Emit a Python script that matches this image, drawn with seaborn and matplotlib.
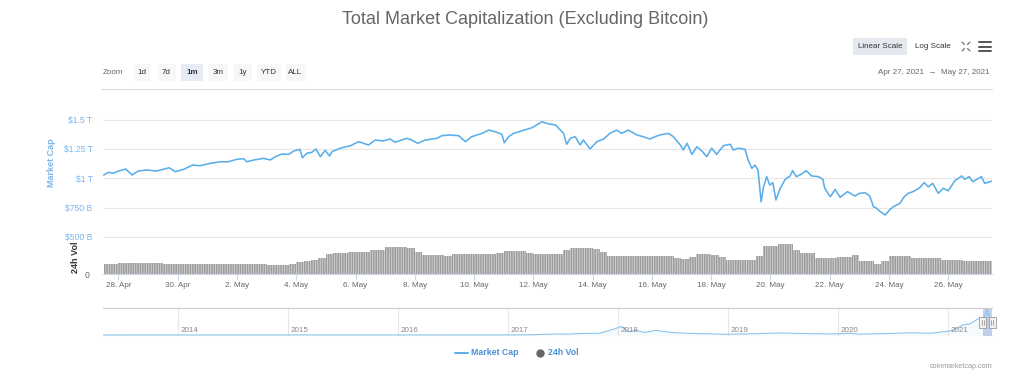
import numpy as np
import pandas as pd
import matplotlib
matplotlib.use("Agg")
import matplotlib.pyplot as plt
import matplotlib.dates as mdates
import matplotlib.transforms as mtrans
from matplotlib.patches import Rectangle
from matplotlib.lines import Line2D
import seaborn as sns

sns.set_theme(style="white")
plt.rcParams['font.family'] = ['Liberation Sans', 'DejaVu Sans']
plt.rcParams['hatch.linewidth'] = 0.6

# ---------------- data ----------------
title = "Total Market Capitalization (Excluding Bitcoin)"

cap_time = [
    "04-27 12:00", "04-27 16:00", "04-27 20:00", "04-28 00:00", "04-28 06:00", "04-28 11:00",
    "04-28 16:00", "04-28 23:00", "04-29 07:00", "04-29 17:00", "04-29 22:00", "04-30 05:00",
    "04-30 12:00", "04-30 18:00", "05-01 02:30", "05-01 10:30", "05-01 17:00", "05-02 00:00",
    "05-02 05:30", "05-02 08:00", "05-02 13:30", "05-02 21:30", "05-03 03:00", "05-03 07:00",
    "05-03 12:30", "05-03 18:00", "05-03 22:00", "05-04 03:00", "05-04 05:00", "05-04 08:30",
    "05-04 12:30", "05-04 16:00", "05-04 19:30", "05-04 23:30", "05-05 03:00", "05-05 05:00",
    "05-05 11:30", "05-05 20:00", "05-06 02:30", "05-06 10:30", "05-06 16:00", "05-06 22:30",
    "05-07 04:00", "05-07 08:00", "05-07 17:30", "05-07 21:30", "05-08 02:30", "05-08 08:30",
    "05-08 18:00", "05-08 22:00", "05-09 04:30", "05-09 11:30", "05-09 17:00", "05-09 22:00",
    "05-10 06:30", "05-10 12:00", "05-10 17:00", "05-10 22:30", "05-11 00:30", "05-11 04:00",
    "05-11 08:00", "05-11 15:00", "05-11 23:00", "05-12 07:00", "05-12 12:30", "05-12 18:00",
    "05-12 22:00", "05-13 00:30", "05-13 03:00", "05-13 06:00", "05-13 10:00", "05-13 14:00",
    "05-13 16:30", "05-13 22:00", "05-14 03:30", "05-14 09:00", "05-14 14:00", "05-14 19:30",
    "05-14 23:30", "05-15 05:00", "05-15 12:00", "05-15 17:00", "05-15 22:30", "05-16 02:30",
    "05-16 06:30", "05-16 13:30", "05-16 17:30", "05-16 23:00", "05-17 01:30", "05-17 04:30",
    "05-17 08:30", "05-17 12:30", "05-17 16:30", "05-17 20:30", "05-18 00:30", "05-18 04:30",
    "05-18 10:00", "05-18 15:30", "05-18 18:00", "05-18 22:00", "05-19 03:30", "05-19 06:00",
    "05-19 09:00", "05-19 11:30", "05-19 14:00", "05-19 16:30", "05-19 18:30", "05-19 21:00",
    "05-19 23:30", "05-20 02:00", "05-20 04:30", "05-20 08:00", "05-20 12:00", "05-20 16:00",
    "05-20 18:00", "05-20 21:00", "05-21 01:30", "05-21 05:00", "05-21 09:30", "05-21 15:00",
    "05-21 18:30", "05-21 20:00", "05-22 00:30", "05-22 04:30", "05-22 08:30", "05-22 14:30",
    "05-22 20:30", "05-23 00:00", "05-23 04:30", "05-23 08:30", "05-23 11:30", "05-23 14:00",
    "05-23 17:00", "05-23 21:00", "05-24 00:30", "05-24 03:30", "05-24 09:00", "05-24 12:00",
    "05-24 15:30", "05-24 19:30", "05-25 01:00", "05-25 04:30", "05-25 08:00", "05-25 11:30",
    "05-25 16:00", "05-25 20:00", "05-26 00:00", "05-26 05:30", "05-26 11:00", "05-26 13:30",
    "05-26 17:00", "05-26 20:00", "05-27 03:00", "05-27 05:30", "05-27 10:00", "05-27 11:30",
]
cap_value_t = [
    1.028, 1.051, 1.043, 1.062, 1.079, 1.028,
    1.062, 1.071, 1.062, 1.090, 1.056, 1.077,
    1.113, 1.107, 1.128, 1.141, 1.141, 1.162,
    1.167, 1.141, 1.156, 1.170, 1.156, 1.184,
    1.207, 1.204, 1.233, 1.247, 1.175, 1.213,
    1.221, 1.250, 1.184, 1.238, 1.190, 1.227,
    1.256, 1.278, 1.312, 1.284, 1.326, 1.318,
    1.335, 1.307, 1.341, 1.326, 1.298, 1.326,
    1.341, 1.363, 1.369, 1.363, 1.312, 1.354,
    1.383, 1.411, 1.397, 1.375, 1.303, 1.354,
    1.383, 1.405, 1.431, 1.482, 1.463, 1.454,
    1.411, 1.383, 1.290, 1.341, 1.354, 1.284,
    1.326, 1.250, 1.312, 1.335, 1.383, 1.411,
    1.383, 1.411, 1.369, 1.354, 1.335, 1.354,
    1.369, 1.383, 1.354, 1.284, 1.241, 1.298,
    1.204, 1.269, 1.233, 1.184, 1.256, 1.204,
    1.278, 1.290, 1.241, 1.256, 1.247, 1.156,
    1.085, 1.113, 1.071, 0.800, 0.928, 1.014,
    0.943, 0.963, 0.815, 0.915, 0.991, 1.020,
    1.065, 1.014, 1.037, 1.065, 1.020, 1.014,
    0.991, 0.915, 0.843, 0.906, 0.838, 0.886,
    0.849, 0.872, 0.877, 0.849, 0.758, 0.744,
    0.716, 0.687, 0.730, 0.758, 0.787, 0.838,
    0.872, 0.886, 0.920, 0.963, 0.928, 0.957,
    0.872, 0.915, 0.894, 0.980, 1.020, 0.991,
    1.014, 0.971, 1.014, 0.957, 0.971, 0.977,
]

# 24h volume (billion USD), one bar per 6 hours starting 2021-04-27 12:00
vol_start = "2021-04-27 12:00"
vol_b = [
    124, 126,
    132, 132, 132, 132,
    132, 132, 126, 116,
    116, 116, 116, 116,
    116, 116, 116, 116,
    116, 116, 116, 116,
    114, 112, 114, 126,
    144, 160, 172, 192,
    240, 252, 252, 264,
    264, 270, 288, 294,
    324, 328, 328, 318,
    264, 228, 228, 228,
    212, 240, 240, 240,
    240, 240, 240, 252,
    276, 276, 276, 252,
    240, 240, 240, 240,
    288, 316, 316, 316,
    300, 264, 220, 220,
    220, 220, 220, 216,
    212, 212, 212, 192,
    176, 204, 240, 240,
    232, 204, 172, 172,
    172, 172, 212, 332,
    336, 364, 364, 292,
    252, 252, 192, 192,
    192, 204, 204, 228,
    152, 152, 124, 152,
    212, 212, 212, 192,
    192, 192, 192, 172,
    172, 172, 152, 152,
    152, 152,
]

cap_ticks = [0.5, 0.75, 1.0, 1.25, 1.5]
cap_tick_labels = ["$500 B", "$750 B", "$1 T", "$1.25 T", "$1.5 T"]
x_tick_dates = ["2021-04-28", "2021-04-30", "2021-05-02", "2021-05-04", "2021-05-06",
                "2021-05-08", "2021-05-10", "2021-05-12", "2021-05-14", "2021-05-16",
                "2021-05-18", "2021-05-20", "2021-05-22", "2021-05-24", "2021-05-26"]

# navigator: full-history altcoin market cap (trillion USD)
nav_time = ["2013-04-28", "2014-01-01", "2015-01-01", "2016-01-01", "2017-01-01",
            "2017-03-15", "2017-05-25", "2017-06-15", "2017-07-15", "2017-09-01",
            "2017-11-01", "2017-12-20", "2018-01-13", "2018-02-06", "2018-03-01",
            "2018-04-01", "2018-05-05", "2018-06-30", "2018-08-15", "2018-11-25",
            "2018-12-15", "2019-03-01", "2019-06-25", "2019-09-01", "2019-12-15",
            "2020-02-15", "2020-03-13", "2020-06-01", "2020-09-01", "2020-11-01",
            "2020-12-31", "2021-01-20", "2021-02-20", "2021-03-15", "2021-04-15",
            "2021-04-25", "2021-05-12", "2021-05-23", "2021-05-27"]
nav_value = [0.0003, 0.002, 0.0015, 0.0015, 0.003,
             0.012, 0.05, 0.065, 0.045, 0.09,
             0.10, 0.35, 0.50, 0.20, 0.27,
             0.15, 0.27, 0.15, 0.10, 0.06,
             0.04, 0.06, 0.12, 0.09, 0.06,
             0.10, 0.05, 0.08, 0.13, 0.10,
             0.22, 0.30, 0.60, 0.65, 1.00,
             0.90, 1.48, 0.70, 0.98]
nav_years = [2014, 2015, 2016, 2017, 2018, 2019, 2020, 2021]

zoom_buttons = ["1d", "7d", "1m", "3m", "1y", "YTD", "ALL"]
date_range_text = "Apr 27, 2021  \u2192  May 27, 2021"

# ---------------- colours ----------------
LINE = "#5aaeea"
LABEL_BLUE = "#7cb5ec"
GRID = "#e6e6e6"
AXIS = "#ccd6eb"
TXT = "#666666"

# ---------------- figure ----------------
W, H = 1024, 386
fig = plt.figure(figsize=(W / 100, H / 100), dpi=100)
fig.patch.set_facecolor("white")


def px_axes(l, t, r, b, **kw):
    return fig.add_axes([l / W, 1 - b / H, (r - l) / W, (b - t) / H], **kw)


def px_rect(l, t, r, b, fc, ec="none", lw=0.0, z=1):
    fig.patches.append(Rectangle((l / W, 1 - b / H), (r - l) / W, (b - t) / H,
                                 transform=fig.transFigure, facecolor=fc,
                                 edgecolor=ec, linewidth=lw, zorder=z))


def px_text(x, y, s, **kw):
    fig.text(x / W, 1 - y / H, s, **kw)


ax = px_axes(103, 100, 992, 240)
axv = px_axes(103, 240, 992, 274, sharex=ax)
axn = px_axes(103, 308, 992, 336)
for a in (ax, axv, axn):
    a.set_facecolor("none")
    for s in a.spines.values():
        s.set_visible(False)

# main line
t_cap = mdates.date2num(pd.to_datetime(["2021-" + s for s in cap_time]))
df = pd.DataFrame({"t": t_cap, "cap": cap_value_t})
sns.lineplot(data=df, x="t", y="cap", ax=ax, color=LINE, linewidth=1.15, zorder=3)
ax.set_ylim(0.4744, 1.667)
ax.set_yticks(cap_ticks)
ax.set_yticklabels(cap_tick_labels)
ax.grid(axis="y", color=GRID, linewidth=0.8)
ax.grid(axis="x", visible=False)
ax.tick_params(axis="y", length=0, labelsize=6.2, labelcolor=LABEL_BLUE, pad=7.5)
ax.tick_params(axis="x", bottom=False, labelbottom=False)
ax.set_xlabel("")
ax.set_ylabel("")

# volume bars
t_vol = mdates.date2num(pd.date_range(vol_start, periods=len(vol_b), freq="6h"))
axv.bar(t_vol, vol_b, width=0.25, align="edge", color="#9c9c9c",
        edgecolor="#d6d6d6", linewidth=0, hatch="|||||||", zorder=2)
axv.set_ylim(0, 408)
axv.set_yticks([0])
axv.set_yticklabels(["0"])
axv.tick_params(axis="y", length=0, labelsize=6.2, labelcolor=TXT, pad=9.5)
axv.spines["bottom"].set_visible(True)
axv.spines["bottom"].set_color(AXIS)
axv.spines["bottom"].set_linewidth(0.8)
xt = pd.to_datetime(x_tick_dates)
axv.set_xticks(mdates.date2num(xt))
axv.set_xticklabels([f"{d.day}. {d:%b}" for d in xt])
axv.tick_params(axis="x", bottom=True, length=4, width=0.8, color=AXIS,
                labelsize=5.8, labelcolor=TXT, pad=2)
axv.set_xlim(mdates.date2num(pd.Timestamp("2021-04-27 11:30")),
             mdates.date2num(pd.Timestamp("2021-05-27 11:30")))
axv.grid(False)

px_text(52, 163, "Market Cap", rotation=90, ha="center", va="center",
        fontsize=6.5, color=LABEL_BLUE, fontweight="bold")
px_text(75, 257, "24h Vol", rotation=90, ha="center", va="center",
        fontsize=6.5, color="#333333", fontweight="bold")

# navigator
t_nav = mdates.date2num(pd.to_datetime(nav_time))
dfn = pd.DataFrame({"t": t_nav, "v": nav_value})
sel0 = mdates.date2num(pd.Timestamp("2021-04-27"))
sel1 = mdates.date2num(pd.Timestamp("2021-05-27"))
axn.axvspan(sel0, sel1, color="#c4d2ea", zorder=1, lw=0)
axn.fill_between(t_nav, -0.06, nav_value, color=LINE, alpha=0.06, lw=0, zorder=2)
sns.lineplot(data=dfn, x="t", y="v", ax=axn, color="#8cc4ee", linewidth=0.8, zorder=3)
axn.set_xlim(t_nav[0], t_nav[-1])
axn.set_ylim(-0.06, 1.59)
yr = mdates.date2num(pd.to_datetime([f"{y}-01-01" for y in nav_years]))
axn.set_xticks(yr)
axn.set_yticks([])
axn.grid(axis="x", color=GRID, linewidth=0.8)
axn.grid(axis="y", visible=False)
axn.tick_params(axis="x", bottom=False, labelbottom=False)
axn.set_xlabel("")
axn.set_ylabel("")
axn.spines["top"].set_visible(True)
axn.spines["top"].set_color("#cccccc")
axn.spines["top"].set_linewidth(0.8)
tr = mtrans.blended_transform_factory(axn.transData, axn.transAxes)
tr = mtrans.offset_copy(tr, fig=fig, x=2.5, y=0, units="dots")
for y, xv in zip(nav_years, yr):
    axn.text(xv, 0.18, str(y), transform=tr, fontsize=5.8, color="#888888",
             ha="left", va="center", zorder=4)

# navigator handles (pixel geometry from the selection dates)
fig.canvas.draw()
for d in (sel0, sel1):
    xpx, _ = axn.transData.transform((d, 0))
    l, r = xpx - 3.5, xpx + 3.5
    px_rect(l, 316.5, r, 327.5, fc="#f2f2f2", ec="#999999", lw=0.6, z=5)
    for dx in (-1.2, 1.2):
        fig.add_artist(Line2D([(xpx + dx) / W] * 2, [1 - 319.5 / H, 1 - 324.5 / H],
                              color="#999999", lw=0.6, zorder=6))

# ---------------- header ----------------
px_text(525, 20, title, ha="center", va="center", fontsize=13, color="#666666")
px_rect(853, 38, 907, 55, fc="#e4e8ef")
px_text(880, 46.5, "Linear Scale", ha="center", va="center", fontsize=5.8, color="#333333")
px_text(933, 46.5, "Log Scale", ha="center", va="center", fontsize=5.8, color="#333333")
# expand icon
for (x0, y0, dx, dy) in [(962, 42, 1, 1), (970, 42, -1, 1), (962, 51, 1, -1), (970, 51, -1, -1)]:
    fig.add_artist(Line2D([x0 / W, (x0 + 2.5 * dx) / W], [1 - y0 / H, 1 - (y0 + 2.5 * dy) / H],
                          color="#666666", lw=0.8))
# menu icon
for yy in (42, 46.5, 51):
    fig.add_artist(Line2D([979 / W, 991 / W], [1 - yy / H] * 2, color="#555555", lw=1.4))

px_text(103, 72, "Zoom", ha="left", va="center", fontsize=5.8, color=TXT)
btn_cx = [142, 166.5, 192, 218, 243, 269, 295.5]
btn_w = [16, 18, 22, 20, 18, 24, 20]
for lab, cx, bw in zip(zoom_buttons, btn_cx, btn_w):
    fc = "#e6ebf5" if lab == "1m" else "#f7f7f7"
    px_rect(cx - bw / 2, 64, cx + bw / 2, 80.5, fc=fc)
    px_text(cx, 72.3, lab, ha="center", va="center", fontsize=5.8, color="#333333",
            fontweight="bold" if lab == "1m" else "normal")
px_text(990, 72, date_range_text, ha="right", va="center", fontsize=5.8, color=TXT)
fig.add_artist(Line2D([101 / W, 992 / W], [1 - 88.5 / H] * 2, color="#dddddd", lw=0.8))

# ---------------- legend ----------------
fig.add_artist(Line2D([455 / W, 468 / W], [1 - 352.5 / H] * 2, color=LINE, lw=1.4))
px_text(471, 352.5, "Market Cap", ha="left", va="center", fontsize=6.3,
        color="#4a8fd4", fontweight="bold")
fig.add_artist(Line2D([539.5 / W], [1 - 352.5 / H], marker="o", markersize=6,
                      markerfacecolor="#666666", markeredgecolor="none", linestyle="none"))
px_text(548, 352.5, "24h Vol", ha="left", va="center", fontsize=6.3,
        color="#4a8fd4", fontweight="bold")

px_text(992, 366, "coinmarketcap.com", ha="right", va="center", fontsize=5.2, color="#999999")

fig.savefig("out.png", dpi=100, facecolor="white")
